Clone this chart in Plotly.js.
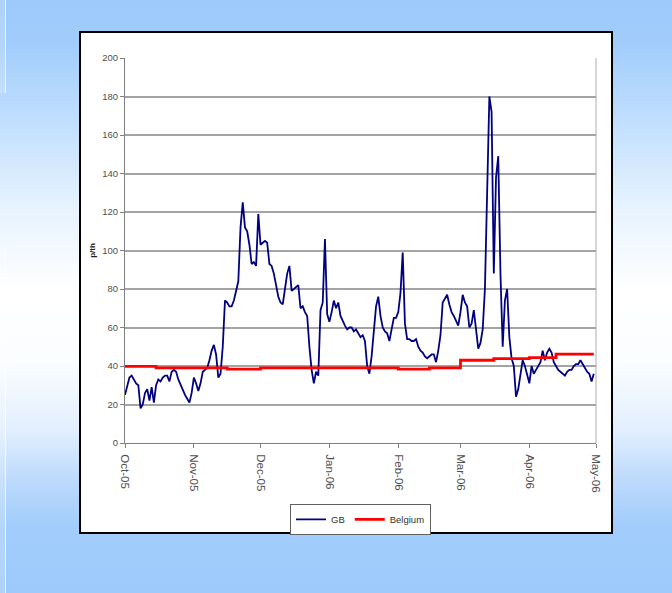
<!DOCTYPE html>
<html>
<head>
<meta charset="utf-8">
<script src="https://cdn.plot.ly/plotly-3.0.1.min.js"></script>
<style>
  html, body { margin:0; padding:0; width:672px; height:593px; overflow:hidden; }
  body {
    background: linear-gradient(to bottom, #9dcafb 0px, #a0ccfb 40px, #c0defd 120px, #e4f1fe 200px, #ffffff 290px, #fbfdff 360px, #e2effe 430px, #bddafc 480px, #a2cdfb 525px, #9dcafb 593px);
    position: relative;
  }
  .edge { position:absolute; left:0; width:5px; background: rgba(255,255,255,0.18); border-right:1px solid rgba(255,255,255,0.75); }
  #chart { position:absolute; left:0; top:0; width:672px; height:593px; }
</style>
</head>
<body>
<div class="edge" style="top:0; height:93px;"></div>
<div class="edge" style="top:248px; height:345px;"></div>
<div id="chart"></div>
<script>
// ---- data ----
const gbStart = '2005-10-01';
const gbDaily = [
 25,30,34,35,33,31,30,18,20,26,
 28,22,29,21,30,33,32,34,35,35,
 32,37,38,37,33,30,28,25,23,21,
 26,34,31,27,31,37,38,39,43,48,
 51,46,34,36,50,74,73,71,71,74,
 79,84,112,125,112,110,103,93,94,92,
 119,103,104,105,104,93,92,88,82,76,
 73,72,80,88,92,79,80,81,82,70,
 71,68,66,50,38,31,37,35,69,73,
 106,67,63,68,74,70,73,66,63,61,
 59,60,60,58,59,57,55,56,53,40,
 36,45,58,71,76,66,60,58,57,53,
 59,65,65,68,78,99,62,54,54,53,
 53,54,50,48,47,45,44,45,46,46,
 42,48,56,73,75,77,72,68,66,63,
 61,68,77,73,71,60,62,69,57,49,
 52,59,80,140,180,172,88,138,149,88,
 50,74,80,55,44,40,24,28,35,43,
 40,35,31,40,36,38,40,42,48,43,
 47,49,47,42,40,38,37,36,35,37,
 38,38,40,41,41,43,41,39,37,36,
 32,36
];
const belgiumDates = ['2005-10-01','2005-10-15','2005-11-16','2005-12-01','2006-02-01','2006-02-15','2006-03-01','2006-03-16','2006-04-01','2006-04-13','2006-04-30'];
const belgiumValues = [39.8, 39.0, 38.4, 39.0, 38.4, 39.0, 43.0, 43.8, 44.4, 46.2, 46.2];
const yTitle = 'p/th';
const seriesNames = ['GB', 'Belgium'];

// build GB dates from the daily series
function addDays(iso, n) {
  const d = new Date(iso + 'T00:00:00Z');
  d.setUTCDate(d.getUTCDate() + n);
  return d.toISOString().slice(0, 10);
}
const gbDates = gbDaily.map((_, i) => addDays(gbStart, i));

const sans = '"Liberation Sans", Arial, sans-serif';

const traces = [
  { x: gbDates, y: gbDaily, name: seriesNames[0], type: 'scatter', mode: 'lines',
    line: { color: '#000080', width: 1.8 } },
  { x: belgiumDates, y: belgiumValues, name: seriesNames[1], type: 'scatter', mode: 'lines',
    line: { color: '#ff0000', width: 2.8, shape: 'hv' } }
];

const layout = {
  width: 672, height: 593,
  margin: { l: 125, r: 76, t: 58, b: 150 },
  paper_bgcolor: 'rgba(0,0,0,0)',
  plot_bgcolor: '#ffffff',
  showlegend: true,
  legend: {
    orientation: 'h', x: 0.5, xanchor: 'center', y: -0.158, yanchor: 'top',
    bgcolor: '#ffffff', bordercolor: '#606060', borderwidth: 1,
    font: { family: sans, size: 9.5, color: '#303030' },
    itemwidth: 30, tracegroupgap: 0
  },
  xaxis: {
    type: 'date',
    range: ['2005-10-01', '2006-05-01'],
    tickmode: 'linear', tick0: '2005-10-01', dtick: 'M1',
    tickformat: '%b-%y', tickangle: 90,
    ticks: 'outside', ticklen: 4, tickcolor: '#808080', tickwidth: 1,
    ticklabelstandoff: 4,
    showline: true, linecolor: '#808080', linewidth: 1,
    showgrid: false, zeroline: false,
    tickfont: { family: sans, size: 11.5, color: '#505050' }
  },
  yaxis: {
    range: [0, 200], dtick: 20, tick0: 0,
    ticks: 'outside', ticklen: 4, tickcolor: '#808080', tickwidth: 1,
    showline: true, linecolor: '#808080', linewidth: 1,
    showgrid: true, gridcolor: '#a4a4a4', gridwidth: 2,
    zeroline: false,
    tickfont: { family: sans, size: 9.5, color: '#505050' },
    title: { text: yTitle, standoff: 5, font: { family: sans, size: 8, color: '#202020', weight: 'bold' } }
  },
  shapes: [
    { type: 'rect', xref: 'paper', yref: 'paper', x0: -0.0955, x1: 1.034, y0: -0.2338, y1: 1.0675,
      fillcolor: '#ffffff', line: { color: '#000000', width: 2 }, layer: 'below' },
    { type: 'line', xref: 'paper', yref: 'paper', x0: 1, x1: 1, y0: 0, y1: 1,
      line: { color: '#c8c8c8', width: 1.5 }, layer: 'below' }
  ]
};

Plotly.newPlot('chart', traces, layout, { staticPlot: true, displayModeBar: false });
</script>
</body>
</html>
